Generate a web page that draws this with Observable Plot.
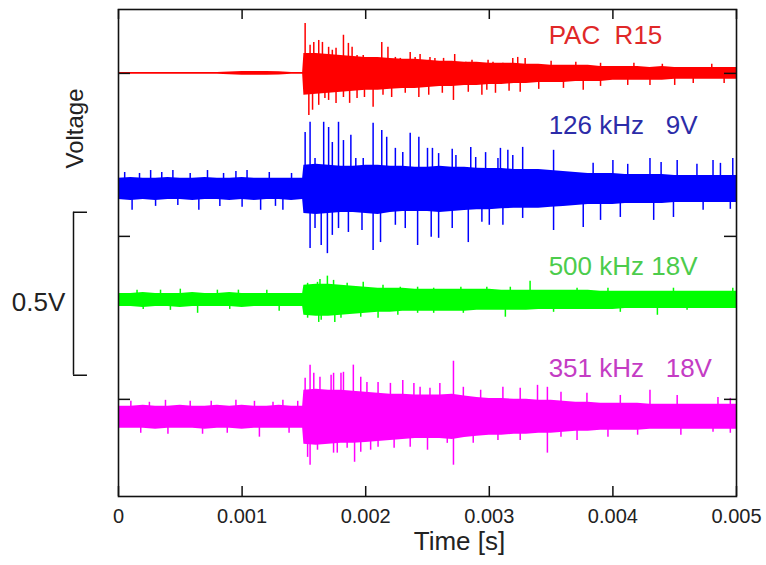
<!DOCTYPE html>
<html><head><meta charset="utf-8">
<script src="https://cdn.jsdelivr.net/npm/d3@7"></script>
<script src="https://cdn.jsdelivr.net/npm/@observablehq/plot@0.6"></script>
<style>body{margin:0;background:#fff} svg text{white-space:pre}</style>
</head><body><div id="chart"></div><script>
// time samples of the envelope (s)
const times = [0,0.0001,0.0002,0.0003,0.0004,0.0005,0.0006,0.0007,0.0008,0.0009,0.0010,0.0011,0.0012,0.0013,0.0014,0.00149,
  0.0015,0.0016,0.0017,0.0018,0.0019,0.0020,0.0021,0.0022,0.0023,0.0024,0.0025,0.0026,0.0027,0.0028,0.0029,0.0030,0.0031,0.0032,0.0033,0.0034,0.0035,0.0036,0.0037,0.0038,0.0039,0.0040,0.0041,0.0042,0.0043,0.0044,0.0045,0.0046,0.0047,0.0048,0.0049,0.0050];
const xTicks = [0,0.001,0.002,0.003,0.004,0.005];
const xTickLabels = ["0","0.001","0.002","0.003","0.004","0.005"];
const yTicks = [0,500,1000];          // mV
const seriesNames = ["PAC  R15","126 kHz   9V","500 kHz 18V","351 kHz   18V"];
const offsets = [1000,647,307,-52];    // trace baselines, mV

// envelope of each trace relative to its baseline (mV)
const redHi = [3,3,3,3,3,3,3,3,3,4,6,6,6,5,3,3, 61,61,58,55,52,49,49,46,43,43,40,37,37,34,34,31,31,31,28,28,25,25,25,25,21,21,21,21,18,21,18,18,18,18,18,18];
const redLo = [-3,-3,-3,-3,-3,-3,-3,-3,-3,-4,-6,-6,-6,-5,-3,-3, -67,-64,-61,-58,-55,-52,-52,-49,-46,-46,-43,-40,-40,-37,-37,-34,-34,-31,-31,-28,-28,-28,-25,-25,-25,-21,-21,-21,-21,-21,-18,-18,-18,-18,-18,-18];
const blueHi = [31,34,31,31,34,31,31,34,31,31,34,31,31,31,31,31, 71,74,71,68,68,71,71,68,68,65,65,68,65,65,62,61,61,58,58,58,55,52,49,46,46,46,43,43,43,43,40,40,40,40,40,40];
const blueLo = [-34,-37,-34,-37,-34,-34,-37,-34,-34,-37,-34,-37,-34,-34,-37,-34, -77,-80,-77,-74,-74,-77,-80,-74,-71,-71,-71,-74,-71,-68,-65,-65,-62,-61,-61,-61,-58,-55,-52,-49,-49,-49,-46,-46,-46,-46,-43,-43,-43,-43,-43,-43];
const greenHi = [18,18,21,18,18,18,21,18,18,21,18,18,18,18,18,18, 43,46,46,43,40,37,34,34,34,31,31,31,31,31,31,31,28,28,28,28,28,28,28,28,25,25,25,25,25,25,25,25,25,25,25,25];
const greenLo = [-22,-22,-25,-22,-22,-25,-22,-22,-22,-22,-25,-22,-22,-22,-22,-22, -49,-52,-52,-49,-46,-43,-40,-40,-37,-37,-37,-37,-37,-37,-34,-34,-34,-34,-34,-31,-31,-31,-31,-31,-31,-31,-28,-28,-28,-28,-28,-28,-28,-28,-28,-28];
const magHi = [31,31,34,31,31,34,31,31,34,31,34,31,31,34,31,31, 80,83,80,80,77,74,71,68,68,65,65,65,68,62,58,55,55,52,52,49,49,46,43,43,40,40,40,40,37,37,37,37,37,37,37,37];
const magLo = [-37,-37,-37,-40,-37,-37,-37,-40,-37,-37,-40,-37,-37,-37,-37,-37, -86,-89,-86,-83,-83,-80,-77,-74,-71,-68,-68,-68,-71,-65,-61,-58,-58,-55,-55,-52,-52,-49,-46,-46,-43,-43,-43,-43,-40,-40,-40,-40,-40,-40,-40,-40];

// individual spikes (time s, peak relative to baseline mV)
const redSpikeT = [0.00151,0.00155,0.00158,0.00162,0.00165,0.0017,0.00173,0.00176,0.00182,0.00186,0.00189,0.00193,0.00198,0.00202,0.00206,0.00213,0.00218,0.00224,0.00228,0.00236,0.0024,0.00244,0.00251,0.00252,0.00256,0.00263,0.00272,0.00281,0.00286,0.00299,0.00303,0.00311,0.00319,0.00323,0.00329,0.0035,0.0037,0.0039,0.00417,0.0044,0.0048,
  0.00154,0.00157,0.00162,0.00167,0.0017,0.00176,0.00182,0.00187,0.00193,0.00199,0.00206,0.00214,0.00221,0.00232,0.00243,0.00251,0.00262,0.00271,0.00283,0.00294,0.00298,0.00305,0.00316,0.00325,0.0034,0.0036,0.00376,0.0039,0.00412,0.0043,0.0045,0.00465,0.0049];
const redSpikeV = [153,86,95,101,95,80,71,77,117,92,80,55,55,49,46,95,80,49,46,64,49,58,40,49,46,46,58,34,40,40,34,31,46,49,46,37,34,31,31,28,28,
  -129,-113,-98,-77,-83,-92,-74,-92,-77,-74,-104,-67,-74,-61,-74,-67,-61,-83,-58,-67,-52,-61,-55,-58,-49,-46,-52,-40,-37,-37,-37,-31,-31];
const blueSpikeT = [0.00005,0.00017,0.00026,0.00035,0.00044,0.00058,0.00072,0.00085,0.00095,0.00104,0.00122,0.0014,
  0.00151,0.00155,0.00159,0.00166,0.0017,0.00173,0.00178,0.00182,0.00188,0.00192,0.00198,0.00206,0.00213,0.00217,0.00224,0.0023,0.00236,0.00243,0.0025,0.00254,0.00259,0.0027,0.00273,0.00285,0.00289,0.00297,0.00307,0.00309,0.00315,0.00319,0.00327,0.00352,0.00384,0.004,0.00412,0.0043,0.00439,0.00452,0.00468,0.00481,0.00487,0.00497,
  0.00011,0.0003,0.00048,0.00065,0.00082,0.001,0.00115,0.00127,0.00133,
  0.00155,0.00159,0.00164,0.00169,0.00173,0.00178,0.00186,0.00197,0.00206,0.00212,0.00224,0.00232,0.00242,0.00253,0.00259,0.0027,0.00283,0.00294,0.003,0.00311,0.00327,0.00352,0.00376,0.0039,0.00406,0.00433,0.00449,0.00473,0.00495];
const blueSpikeV = [49,46,55,49,55,46,55,46,52,55,49,46,
  172,203,92,203,187,141,203,147,163,92,92,200,178,157,123,110,169,157,123,123,107,120,101,126,95,110,92,123,117,101,126,117,77,86,74,92,80,86,74,86,77,92,
  -67,-55,-52,-67,-55,-58,-67,-55,-67,
  -184,-123,-175,-200,-144,-123,-135,-129,-190,-166,-113,-123,-175,-150,-153,-123,-166,-104,-113,-113,-92,-129,-120,-98,-89,-98,-89,-67,-64];
const greenSpikeT = [0.00015,0.00034,0.0005,0.0008,0.00097,0.0012,0.00153,0.00161,0.00163,0.00169,0.00174,0.00185,0.00198,0.00214,0.00228,0.00242,0.00255,0.00277,0.00298,0.00317,0.00333,0.00371,0.00396,0.00449,0.00497,
  0.0002,0.00042,0.00064,0.0009,0.0013,0.00153,0.00162,0.00164,0.00175,0.0018,0.00196,0.0021,0.00226,0.00242,0.00255,0.00279,0.00313,0.00352,0.00406,0.00436,0.0046];
const greenSpikeV = [28,28,31,28,28,28,49,52,61,71,58,49,52,43,37,37,34,37,37,37,55,34,34,34,34,
  -31,-34,-43,-31,-37,-58,-71,-64,-71,-58,-55,-58,-49,-43,-43,-43,-55,-40,-40,-49,-34];
const magSpikeT = [0.0001,0.00025,0.00038,0.00058,0.00075,0.00095,0.0011,0.00125,0.00133,0.00145,
  0.00151,0.00155,0.00158,0.00163,0.00172,0.00174,0.0018,0.00182,0.0019,0.00196,0.00201,0.0021,0.0022,0.0023,0.00239,0.00244,0.00252,0.0026,0.00271,0.00279,0.00293,0.00311,0.00325,0.00339,0.00347,0.00358,0.00379,0.00406,0.0043,0.00452,0.00485,0.00495,
  0.00018,0.0004,0.00068,0.00088,0.00114,0.00138,
  0.00153,0.00155,0.00161,0.00174,0.00177,0.00185,0.00191,0.00196,0.00204,0.0021,0.00223,0.00236,0.0025,0.00266,0.00271,0.00287,0.00307,0.00325,0.00347,0.00358,0.00371,0.00396,0.0042,0.00455,0.00481,0.00495];
const magSpikeV = [46,43,49,46,46,49,46,43,49,46,
  117,157,132,120,126,132,132,135,157,120,104,104,101,110,101,89,86,101,169,89,80,89,86,95,89,74,71,64,80,64,58,55,
  -52,-55,-55,-52,-64,-52,
  -126,-150,-104,-113,-113,-98,-141,-110,-104,-95,-98,-95,-104,-83,-150,-83,-74,-74,-113,-64,-74,-64,-58,-58,-49,-52];

const traceColors = ["#ff0000","#0000ff","#00ff00","#ff00ff"];
const labelColors = ["#e02828","#2c2ca8","#4ccc4c","#c43cc4"];

const his = [redHi, blueHi, greenHi, magHi];
const los = [redLo, blueLo, greenLo, magLo];
const spT = [redSpikeT, blueSpikeT, greenSpikeT, magSpikeT];
const spV = [redSpikeV, blueSpikeV, greenSpikeV, magSpikeV];

const bands = [], spikes = [];
for (let s = 0; s < 4; s++) {
  times.forEach((t, i) => bands.push({s, t, lo: offsets[s] + los[s][i], hi: offsets[s] + his[s][i]}));
  spT[s].forEach((t, i) => spikes.push({s, t, base: offsets[s], tip: offsets[s] + spV[s][i]}));
}

const order = [3, 2, 1, 0];
const traceMarks = [];
for (const s of order) {
  traceMarks.push(Plot.areaY(bands.filter(d => d.s === s), {x: "t", y1: "lo", y2: "hi", fill: traceColors[s]}));
  traceMarks.push(Plot.ruleX(spikes.filter(d => d.s === s), {x: "t", y1: "base", y2: "tip", stroke: traceColors[s], strokeWidth: 1.5}));
}
const labelDy = [-38, -63, -33, -48];
const labelMarks = seriesNames.map((name, s) => Plot.text([name], {
  x: () => 0.00348, y: () => offsets[s], dy: labelDy[s], text: d => d,
  textAnchor: "start", fill: labelColors[s], fontSize: 26
}));

const chart = Plot.plot({
  width: 766, height: 565,
  marginLeft: 118, marginRight: 30, marginTop: 9, marginBottom: 69,
  style: {fontFamily: "'Liberation Sans', Arial, sans-serif", background: "white", color: "#222"},
  x: {domain: [0, 0.005], axis: null},
  y: {domain: [-298, 1196], axis: null},
  marks: [
    ...traceMarks,
    ...labelMarks,
    Plot.frame({stroke: "#111", strokeWidth: 1.6}),
    Plot.ruleX(xTicks, {insetTop: 477, stroke: "#111", strokeWidth: 1.5}),
    Plot.ruleX(xTicks, {insetBottom: 477, stroke: "#111", strokeWidth: 1.5}),
    Plot.ruleY(yTicks, {insetRight: 606, stroke: "#111", strokeWidth: 1.5}),
    Plot.ruleY(yTicks, {insetLeft: 606, stroke: "#111", strokeWidth: 1.5}),
    Plot.axisX(xTicks, {anchor: "bottom", tickSize: 0, tickPadding: 12, fontSize: 20, label: null,
      tickFormat: d => xTickLabels[xTicks.indexOf(d)]}),
    Plot.text(["Time [s]"], {frameAnchor: "bottom", dx: 32, dy: 53, fontSize: 26, fill: "#222"}),
    Plot.text(["Voltage"], {x: () => -0.00035, y: () => 831, rotate: -90, fontSize: 24, fill: "#222"}),
    Plot.text(["0.5V"], {frameAnchor: "top-left", textAnchor: "middle", dx: -80, dy: 283, fontSize: 26, fill: "#222"}),
    Plot.ruleX([0], {y1: 74, y2: 574, dx: -45, stroke: "#111", strokeWidth: 1.5}),
    Plot.ruleY([74, 574], {x1: -0.000364, x2: -0.000251, stroke: "#111", strokeWidth: 1.5})
  ]
});
document.getElementById("chart").appendChild(chart);
</script></body></html>
